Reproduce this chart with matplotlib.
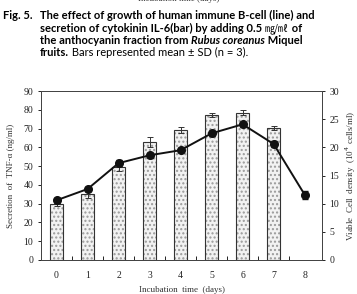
import matplotlib
matplotlib.use("Agg")
import matplotlib.pyplot as plt

# values
days = [0, 1, 2, 3, 4, 5, 6, 7, 8]
il6_days = [0, 1, 2, 3, 4, 5, 6, 7]
il6 = [29.8, 35.0, 49.8, 63.0, 69.3, 77.3, 78.6, 70.3]
il6_sd = [1.2, 2.2, 2.3, 2.6, 1.4, 1.3, 1.3, 0.9]
cells = [10.6, 12.6, 17.2, 18.6, 19.5, 22.5, 24.1, 20.6, 11.6]
cells_sd = [0.4, 0.4, 0.5, 0.4, 0.4, 0.4, 0.4, 0.6, 0.7]

left_ticks = list(range(0, 91, 10))
right_ticks = list(range(0, 31, 5))

serif = "Liberation Serif"
fig = plt.figure(figsize=(3.57, 2.94), dpi=100)

# caption text
cax = fig.add_axes([0, 0, 1, 1])
cax.set_axis_off()
cax.set_xlim(0, 1)
cax.set_ylim(0, 1)
fs = 8.0
cap = dict(fontsize=fs, family=["Lato", "DejaVu Sans"], va="bottom", clip_on=False)


def piece(prev, s, **kw):
    opts = dict(cap)
    opts.update(kw)
    return cax.annotate(s, xy=(1, 0), xycoords=prev, **opts)


# bottom half of the previous figure's axis label, cut at the top edge
cax.text(0.5, 0.99, "Incubation time (days)", ha="center", va="bottom",
         fontsize=6.5, family=serif, color="#333333")
cax.text(0.008, 0.928, "Fig. 5.", fontweight="bold", **cap)
cax.text(0.112, 0.928, "The effect of growth of human immune B-cell (line) and",
         fontweight="bold", **cap)
t = cax.text(0.112, 0.886, "secretion of cytokinin IL-6(bar) by adding 0.5 ",
             fontweight="bold", **cap)
t = piece(t, "㎎/㎖", family=["Noto Sans CJK KR"], fontsize=7.2)
piece(t, " of", fontweight="bold")
t = cax.text(0.112, 0.844, "the anthocyanin fraction from ", fontweight="bold", **cap)
t = piece(t, "Rubus coreanus", fontweight="bold", fontstyle="italic")
piece(t, " Miquel", fontweight="bold")
t = cax.text(0.112, 0.802, "fruits.", fontweight="bold", **cap)
piece(t, " Bars represented mean \u00b1 SD (n = 3).")

ax = fig.add_axes([0.115, 0.116, 0.787, 0.574])
ax2 = ax.twinx()

# bars: dotted fill then outline
ax.bar(il6_days, il6, width=0.42, color="#f2f2f2", edgecolor="#9a9a9a",
       hatch="....", linewidth=0, zorder=2)
ax.bar(il6_days, il6, width=0.42, color="none", edgecolor="#333333",
       linewidth=0.8, zorder=3)
ax.errorbar(il6_days, il6, yerr=il6_sd, fmt="none", ecolor="#333333",
            elinewidth=0.7, capsize=2, capthick=0.7, zorder=4)

ax2.errorbar(days, cells, yerr=cells_sd, color="#111111", linewidth=1.4,
             marker="o", markersize=5.5, ecolor="#111111", elinewidth=0.7,
             capsize=2, zorder=5)

ax.set_xlim(-0.5, 8.56)
ax.set_ylim(0, 90)
ax2.set_ylim(0, 30)
ax.set_yticks(left_ticks)
ax2.set_yticks(right_ticks)
ax.set_xticks(days)
ax.set_xticks([d + 0.5 for d in days[:-1]] + [-0.5], minor=True)
ax.tick_params(axis="x", which="major", length=0, pad=8, labelsize=7)
ax.tick_params(axis="x", which="minor", direction="in", length=3, width=0.6)
ax.tick_params(axis="y", length=2.5, width=0.6, labelsize=7, pad=3)
ax2.tick_params(axis="y", length=2.5, width=0.6, labelsize=7, pad=3)

for lab in ax.get_xticklabels() + ax.get_yticklabels() + ax2.get_yticklabels():
    lab.set_family(serif)
    lab.set_color("#222222")

for a in (ax, ax2):
    for s in a.spines.values():
        s.set_linewidth(0.7)
        s.set_color("#444444")

ax.set_xlabel("Incubation  time  (days)", family=serif, fontsize=6.5,
              color="#333333", labelpad=4)
ax.set_ylabel("Secretion  of  TNF-\u03b1 (ng/ml)", family=serif, fontsize=6.5,
              color="#333333", labelpad=6)
ax2.set_ylabel("Viable  Cell  density  (10$^4$ cells/ml)", family=serif, fontsize=6.5,
               color="#333333", labelpad=3)

fig.savefig("out.png", dpi=100)
